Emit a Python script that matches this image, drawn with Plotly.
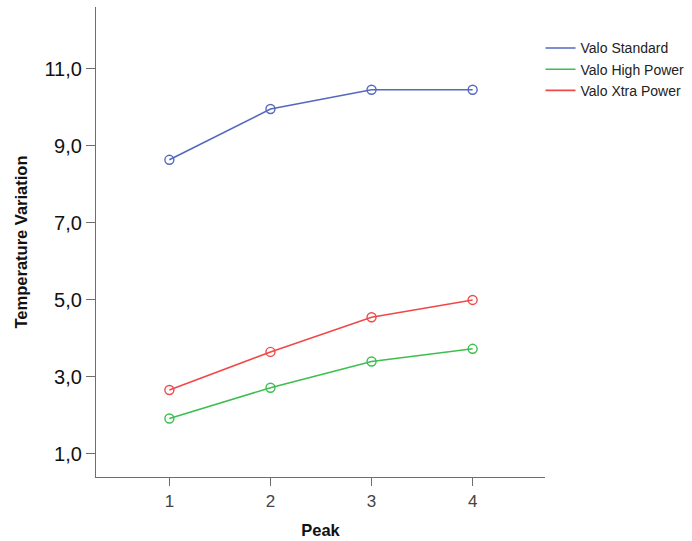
import plotly.graph_objects as go

peaks = [1, 2, 3, 4]
valo_standard = [8.63, 9.95, 10.45, 10.45]
valo_high_power = [1.91, 2.71, 3.39, 3.72]
valo_xtra_power = [2.65, 3.64, 4.54, 4.99]

series_names = ["Valo Standard", "Valo High Power", "Valo Xtra Power"]
series_values = [valo_standard, valo_high_power, valo_xtra_power]
colors = ["#5468c0", "#3cbf4f", "#f04848"]

y_tickvals = [1, 3, 5, 7, 9, 11]
y_ticktext = ["1,0", "3,0", "5,0", "7,0", "9,0", "11,0"]

fig = go.Figure()
for name, vals, c in zip(series_names, series_values, colors):
    fig.add_trace(go.Scatter(
        x=peaks, y=vals, mode="lines+markers", name=name, showlegend=False,
        line=dict(color=c, width=1.6),
        marker=dict(symbol="circle-open", size=9, color=c, line=dict(width=1.4, color=c)),
    ))
for name, c in zip(series_names, colors):
    fig.add_trace(go.Scatter(
        x=[None], y=[None], mode="lines", name=name, showlegend=True,
        line=dict(color=c, width=1.6),
    ))

axis_color = "#6e6e6e"
fig.update_layout(
    width=692, height=541,
    margin=dict(l=96, r=147, t=7, b=64, autoexpand=False),
    paper_bgcolor="white", plot_bgcolor="white",
    font=dict(family="Arial, Liberation Sans, sans-serif", color="#222"),
    legend=dict(
        x=0.99, y=0.946, xanchor="left", yanchor="top",
        font=dict(size=14, color="#222"),
        bgcolor="rgba(0,0,0,0)", tracegroupgap=0, itemwidth=30,
    ),
    xaxis=dict(
        range=[0.274, 4.716], tickvals=peaks, ticktext=[str(p) for p in peaks],
        showgrid=False, zeroline=False, showline=True, linecolor=axis_color, linewidth=1.3,
        ticks="outside", ticklen=8, tickwidth=1.3, tickcolor=axis_color,
        tickfont=dict(size=17, color="#444"),
        title=dict(text="<b>Peak</b>", font=dict(size=16.5, color="#111"), standoff=14),
    ),
    yaxis=dict(
        range=[0.39, 12.6], tickvals=y_tickvals, ticktext=y_ticktext,
        showgrid=False, zeroline=False, showline=True, linecolor=axis_color, linewidth=1.3,
        ticks="outside", ticklen=9, tickwidth=1.3, tickcolor=axis_color,
        tickfont=dict(size=20, color="#111"),
        title=dict(text="<b>Temperature Variation</b>", font=dict(size=16.5, color="#111"), standoff=12),
    ),
)

fig.write_html("out.html")
